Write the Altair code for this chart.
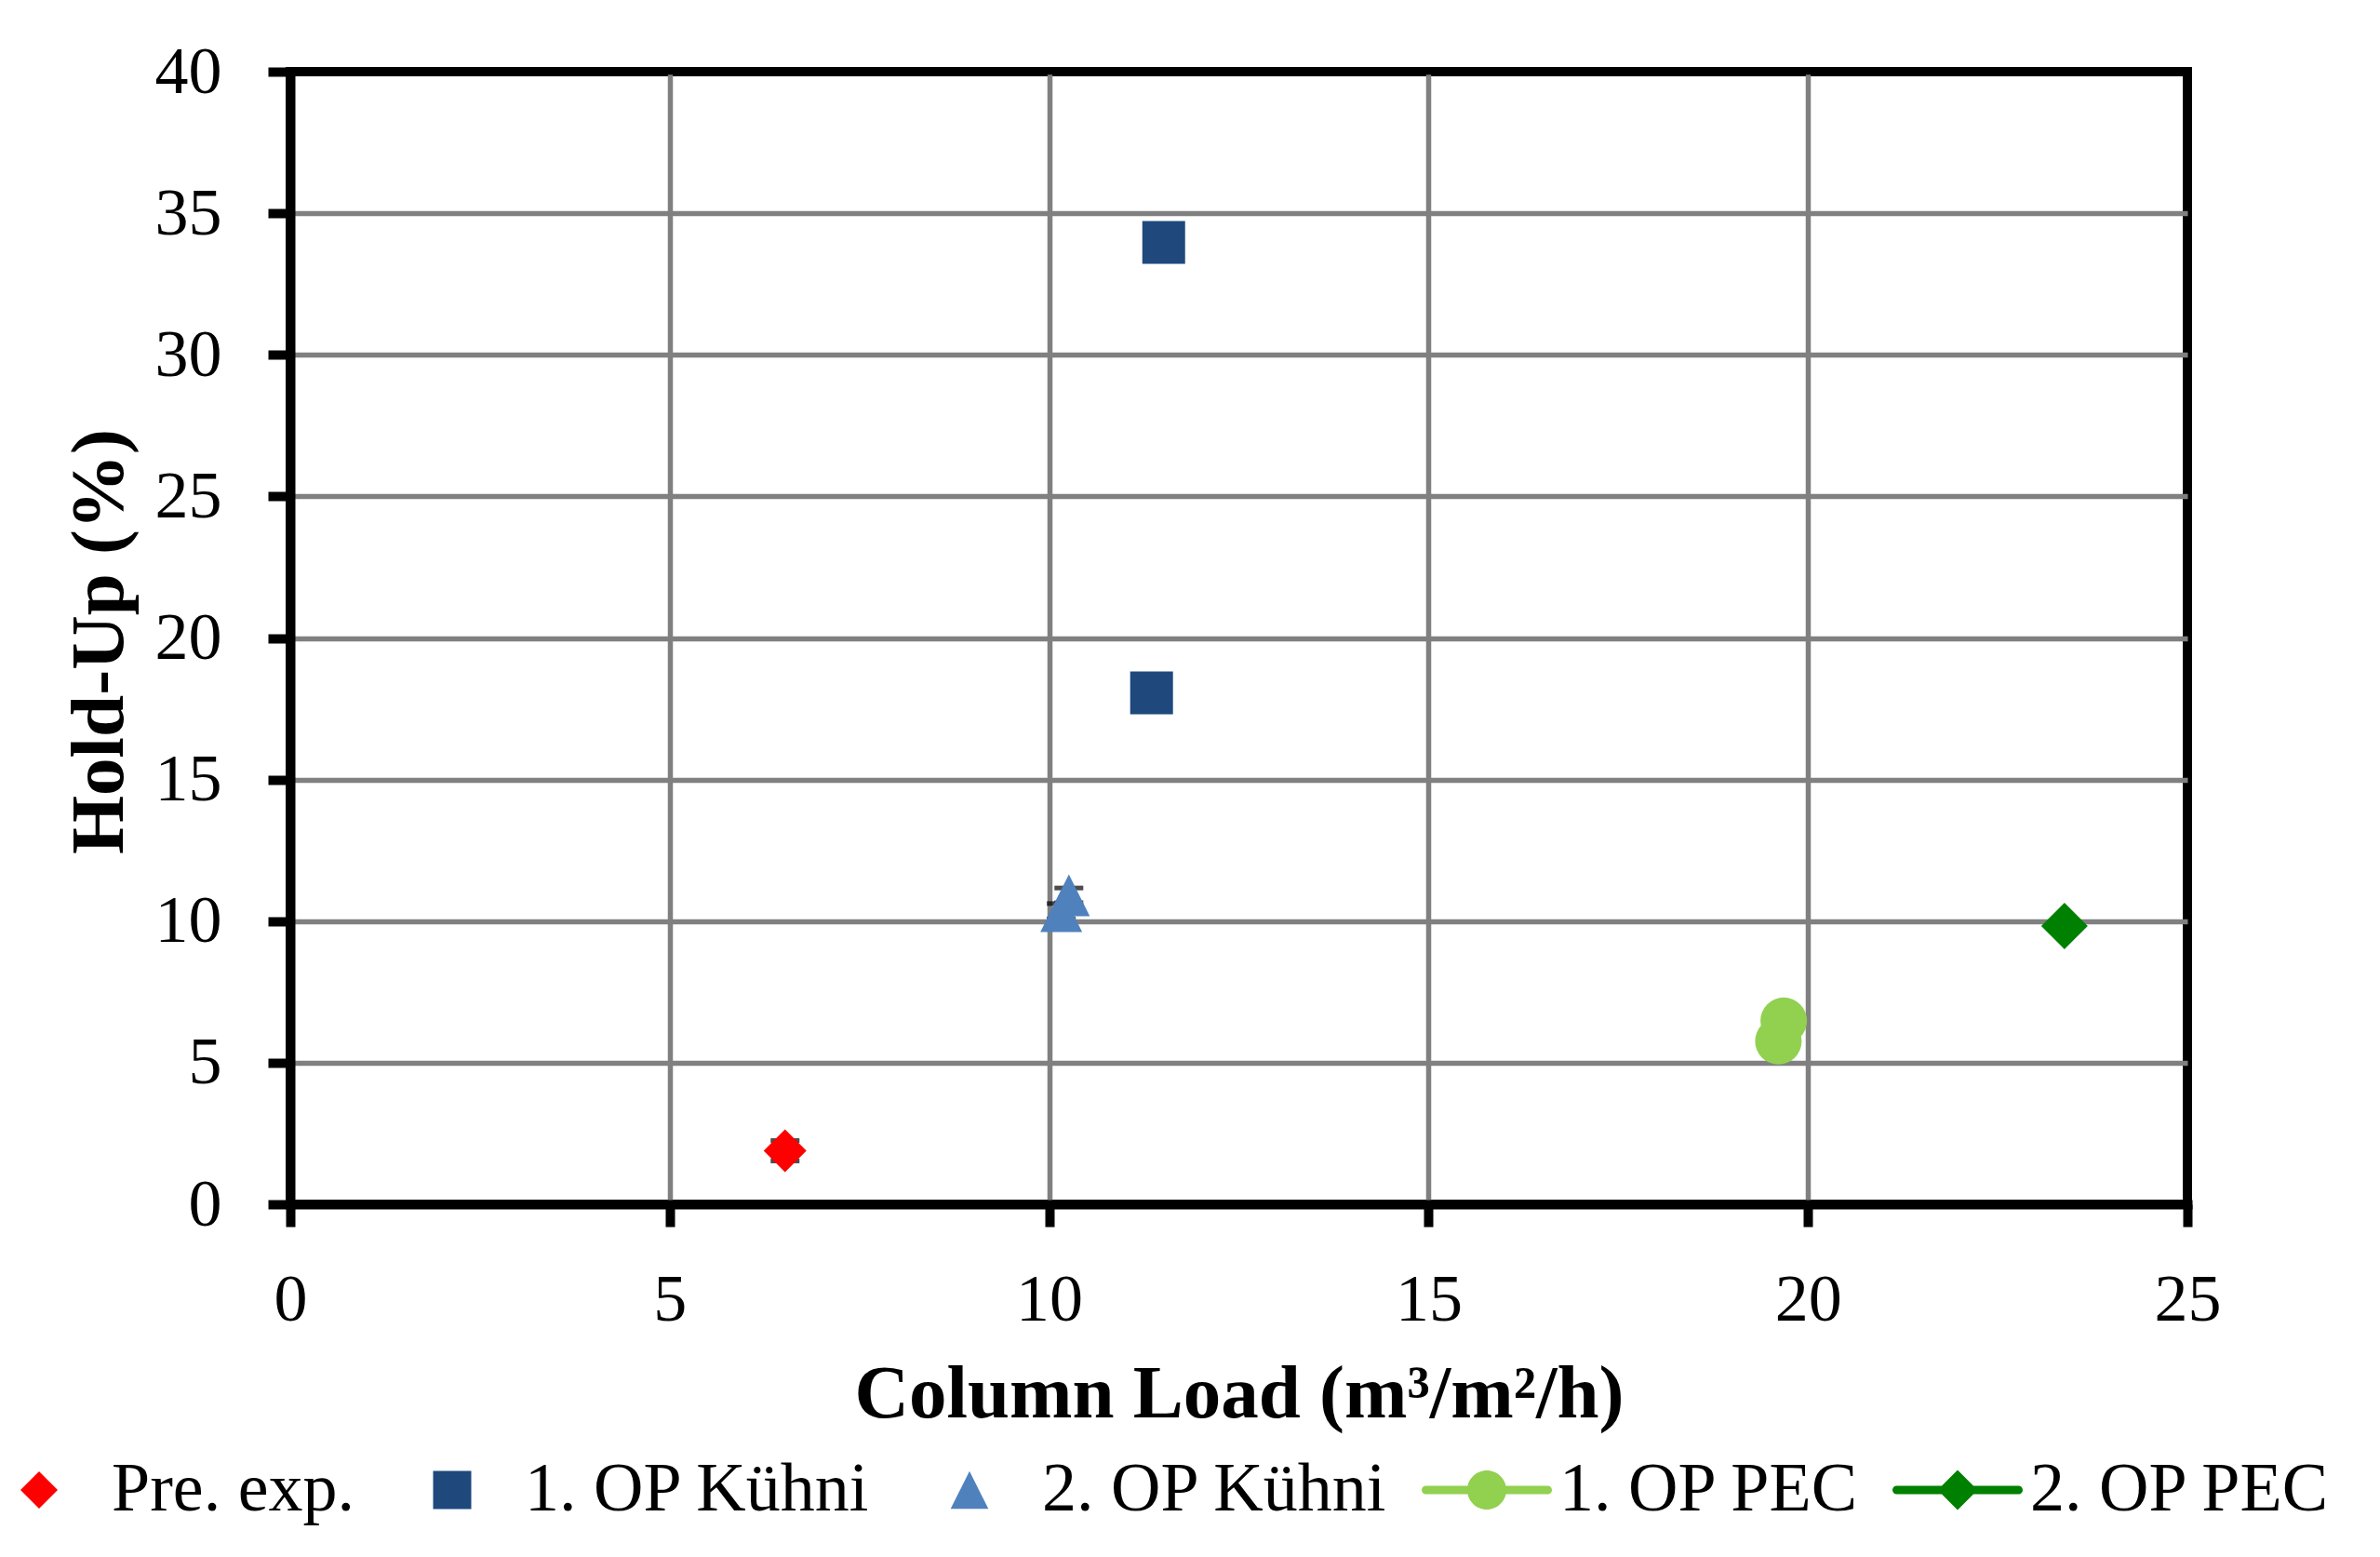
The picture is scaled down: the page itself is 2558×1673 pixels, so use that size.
import altair as alt
import pandas as pd

# ---- data ----
series_names = ["Pre. exp.", "1. OP Kühni", "2. OP Kühni", "1. OP PEC", "2. OP PEC"]
point_series = ["Pre. exp.", "1. OP Kühni", "1. OP Kühni", "2. OP Kühni", "2. OP Kühni",
                "1. OP PEC", "1. OP PEC", "2. OP PEC"]
load_x = [6.52, 11.51, 11.35, 10.26, 10.16, 19.68, 19.61, 23.38]
holdup_y = [1.89, 33.97, 18.06, 10.91, 10.35, 6.48, 5.76, 9.83]
err_y = [0.36, 0.0, 0.0, 0.26, 0.27, 0.0, 0.0, 0.0]
x_ticks = [0, 5, 10, 15, 20, 25]
y_ticks = [0, 5, 10, 15, 20, 25, 30, 35, 40]

# ---- styles ----
colors = ["#FF0000", "#1F497D", "#4F81BD", "#92D050", "#008000"]
chart_shapes = ["diamond", "square", "M0,-1L1,1L-1,1Z", "circle", "diamond"]
line_path = ("M-0.935,-0.065L0.935,-0.065A0.065,0.065,0,0,1,0.935,0.065"
             "L-0.935,0.065A0.065,0.065,0,0,1,-0.935,-0.065Z")
legend_shapes = [
    "M-0.286,0L0,-0.286L0.286,0L0,0.286Z",
    "M-0.293,-0.293L0.293,-0.293L0.293,0.293L-0.293,0.293Z",
    "M0,-0.29L0.29,0.29L-0.29,0.29Z",
    line_path + "M-0.3,0A0.3,0.3,0,1,1,0.3,0A0.3,0.3,0,1,1,-0.3,0Z",
    line_path + "M-0.307,0L0,-0.307L0.307,0L0,0.307Z",
]

FONT = "Liberation Serif"

df = pd.DataFrame({"series": point_series, "load": load_x, "holdup": holdup_y, "err": err_y})
df["lo"] = df["holdup"] - df["err"]
df["hi"] = df["holdup"] + df["err"]
err_df = df[df["err"] > 0]

x_scale = alt.Scale(domain=[0, 25], nice=False, zero=False)
y_scale = alt.Scale(domain=[0, 40], nice=False, zero=False)

x_axis = alt.Axis(
    values=x_ticks, format="d", title="Column Load (m³/m²/h)", titleY=228,
    titleBaseline="alphabetic", labelPadding=43, labelFlush=False,
    gridColor={"condition": {"test": "datum.value == 0 || datum.value == 25", "value": "black"},
               "value": "#808080"},
)
y_axis = alt.Axis(
    values=y_ticks, format="d", title="Hold-Up (%)", titleX=-181, titleY=612, titleAngle=270,
    titleBaseline="alphabetic", titleAlign="center", labelPadding=50, labelFlush=False,
    gridColor={"condition": {"test": "datum.value == 0 || datum.value == 40", "value": "black"},
               "value": "#808080"},
)

base_err = alt.Chart(err_df)
rule = base_err.mark_rule(color="black", strokeWidth=3).encode(
    x=alt.X("load:Q", scale=x_scale, axis=x_axis),
    y=alt.Y("lo:Q", scale=y_scale, axis=y_axis),
    y2="hi:Q",
)
cap_lo = base_err.mark_tick(orient="horizontal", size=31, thickness=5, color="black").encode(
    x="load:Q", y="lo:Q")
cap_hi = base_err.mark_tick(orient="horizontal", size=31, thickness=5, color="black").encode(
    x="load:Q", y="hi:Q")

points = alt.Chart(df).transform_calculate(
    msize="datum.series == '1. OP PEC' || datum.series == '2. OP PEC' ? 2500 : "
          "(datum.series == '2. OP Kühni' ? 2025 : 2116)"
).mark_point(filled=True, opacity=1, strokeWidth=0).encode(
    x="load:Q",
    y="holdup:Q",
    color=alt.Color("series:N", scale=alt.Scale(domain=series_names, range=colors), legend=None),
    shape=alt.Shape("series:N", scale=alt.Scale(domain=series_names, range=chart_shapes), legend=None),
    size=alt.Size("msize:Q", scale=None, legend=None),
)

leg_cfg = dict(
    title=None, orient="none", legendX=-340, legendY=1454, direction="horizontal",
    symbolSize=19600, symbolStrokeWidth=0, symbolOpacity=1,
    labelFont=FONT, labelFontSize=74, labelColor="black", labelOffset=8, labelLimit=1000,
    columnPadding=35, padding=0,
)
legend_layer = alt.Chart(pd.DataFrame({"series": series_names})).mark_point(
    filled=True, opacity=0).encode(
    color=alt.Color("series:N", scale=alt.Scale(domain=series_names, range=colors),
                    legend=alt.Legend(**leg_cfg)),
    shape=alt.Shape("series:N", scale=alt.Scale(domain=series_names, range=legend_shapes),
                    legend=alt.Legend(**leg_cfg)),
)

chart = alt.layer(rule, cap_lo, cap_hi, points, legend_layer).resolve_scale(
    color="independent", shape="independent"
).properties(
    width=2039, height=1217,
    autosize=alt.AutoSizeParams(type="none"),
    padding={"left": 304, "top": 69, "right": 190, "bottom": 360},
    background="white",
).configure_view(
    stroke="black", strokeWidth=10
).configure_axis(
    domainColor="black", domainWidth=10, domainCap="square",
    tickColor="black", tickWidth=10, tickSize=24,
    labelFont=FONT, labelFontSize=72, labelColor="black",
    titleFont=FONT, titleFontSize=81, titleFontWeight="bold", titleColor="black",
    gridWidth=5.5,
)

chart.save("out.html", embed_options={"renderer": "svg", "actions": False})
